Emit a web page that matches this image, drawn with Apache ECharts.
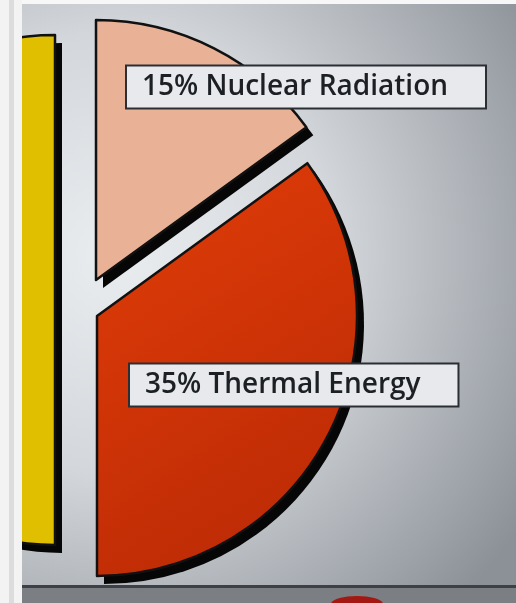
<!DOCTYPE html>
<html>
<head>
<meta charset="utf-8">
<script src="https://cdn.jsdelivr.net/npm/echarts@6/dist/echarts.min.js"></script>
<style>
  html, body { margin: 0; padding: 0; background: #f1f1f1; }
  #main { width: 516px; height: 603px; }
</style>
</head>
<body>
<div id="main"></div>
<script>
// energy split of the blast
var names = ['Nuclear Radiation', 'Thermal Energy', 'Blast'];
var values = [15, 35, 50];
var colors = [
    '#e9b196',
    {type: 'linear', x: 0, y: 0, x2: 1, y2: 1, colorStops: [
        {offset: 0, color: '#e23d08'}, {offset: 1, color: '#b72805'}]},
    '#e0bf00'
];
// each slice sits a bit apart (exploded), so one series per slice
var centers = [[96, 280], [97, 316], [55, 290]];
var radii = [260, 260, 255];
var labelPos = [[127, 87], [130, 385], null];
var shadowShift = [7, 8];

var myChart = echarts.init(document.getElementById('main'));

function sliceSeries(k, isShadow) {
    var c = centers[k];
    return {
        type: 'pie',
        name: names[k] + (isShadow ? ' shadow' : ''),
        center: isShadow ? [c[0] + shadowShift[0], c[1] + shadowShift[1]] : c,
        radius: radii[k],
        startAngle: 90,
        clockwise: true,
        silent: true,
        z: isShadow ? 1 : 2,
        labelLine: {show: false},
        labelLayout: function () {
            if (!labelPos[k]) return {};
            return {x: labelPos[k][0], y: labelPos[k][1], align: 'left', verticalAlign: 'middle'};
        },
        data: names.map(function (n, i) {
            var on = i === k;
            var style;
            if (!on) style = {color: 'rgba(0,0,0,0)', borderWidth: 0};
            else if (isShadow) style = {color: '#060606', borderWidth: 0};
            else style = {color: colors[i], borderColor: '#111', borderWidth: 2.5};
            return {
                name: n,
                value: values[i],
                itemStyle: style,
                label: {show: on && !isShadow && !!labelPos[k]}
            };
        }),
        label: {
            position: 'inside',
            formatter: '{c}% {b}',
            fontFamily: 'Open Sans',
            fontWeight: 600,
            fontSize: 28,
            color: '#1c2024',
            backgroundColor: '#e7e9ec',
            borderColor: '#2b2f34',
            borderWidth: 2,
            padding: [7, 37, 6, 15]
        }
    };
}

var option = {
    backgroundColor: {
        type: 'radial', x: 0.22, y: 0.42, r: 0.95,
        colorStops: [
            {offset: 0, color: '#eaedf0'},
            {offset: 0.45, color: '#d3d7db'},
            {offset: 1, color: '#8c9198'}
        ]
    },
    animation: false,
    series: [
        sliceSeries(2, true), sliceSeries(1, true), sliceSeries(0, true),
        sliceSeries(2, false), sliceSeries(1, false), sliceSeries(0, false)
    ],
    graphic: [
        // photo frame: left strip, top edge, bottom bar
        {type: 'rect', z: 100, shape: {x: 0, y: 0, width: 22, height: 603}, style: {fill: '#f3f3f3'}},
        {type: 'rect', z: 100, shape: {x: 9, y: 0, width: 5, height: 603}, style: {fill: '#dcdcdc'}},
        {type: 'rect', z: 100, shape: {x: 22, y: 0, width: 494, height: 4}, style: {fill: '#f7f7f7'}},
        {type: 'rect', z: 100, shape: {x: 22, y: 585, width: 494, height: 18}, style: {fill: '#7b7e83'}},
        {type: 'rect', z: 100, shape: {x: 22, y: 585, width: 494, height: 3}, style: {fill: '#3d4045'}},
        {type: 'ellipse', z: 101, shape: {cx: 357, cy: 604, rx: 26, ry: 8}, style: {fill: '#a31812'}}
    ]
};
myChart.setOption(option);
</script>
</body>
</html>
